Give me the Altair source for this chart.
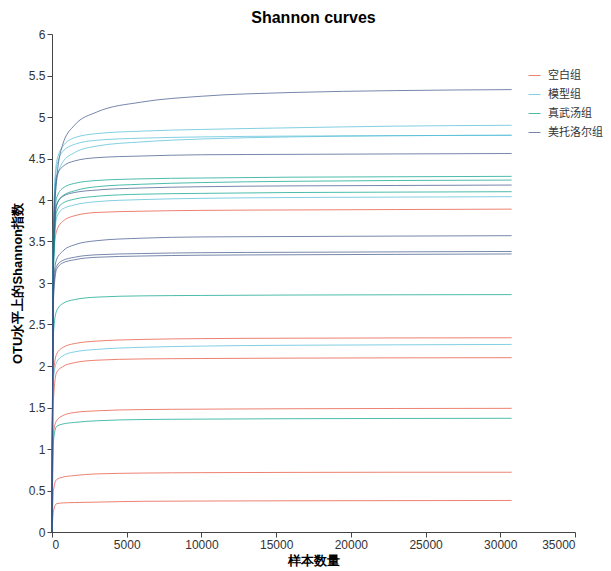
import altair as alt
import pandas as pd

# sequencing depths at which values are read
depths = [0, 100, 300, 700, 1500, 3000, 6000, 10000, 16000, 23000, 30760]

groups = ["空白组", "模型组", "真武汤组", "美托洛尔组"]
colors = ["#E64B35", "#4DBBD5", "#00A087", "#3C5488"]

blank_curves = [
    [0, 3.3, 3.62, 3.74, 3.81, 3.85, 3.865, 3.875, 3.88, 3.885, 3.89],
    [0, 1.9, 2.14, 2.22, 2.27, 2.30, 2.32, 2.33, 2.335, 2.338, 2.34],
    [0, 1.6, 1.92, 1.99, 2.04, 2.07, 2.085, 2.09, 2.095, 2.098, 2.10],
    [0, 1.2, 1.34, 1.40, 1.44, 1.46, 1.475, 1.48, 1.485, 1.488, 1.49],
    [0, 0.5, 0.63, 0.66, 0.68, 0.70, 0.71, 0.715, 0.718, 0.72, 0.72],
    [0, 0.25, 0.34, 0.35, 0.355, 0.36, 0.37, 0.373, 0.376, 0.378, 0.38],
]
model_curves = [
    [0, 3.8, 4.45, 4.64, 4.75, 4.80, 4.83, 4.85, 4.87, 4.89, 4.90],
    [0, 3.7, 4.38, 4.58, 4.67, 4.72, 4.745, 4.76, 4.77, 4.775, 4.78],
    [0, 3.5, 4.22, 4.45, 4.57, 4.65, 4.70, 4.735, 4.76, 4.775, 4.78],
    [0, 3.1, 3.78, 3.89, 3.94, 3.98, 4.005, 4.02, 4.03, 4.035, 4.04],
    [0, 1.85, 2.04, 2.12, 2.17, 2.20, 2.225, 2.24, 2.25, 2.255, 2.26],
]
zwt_curves = [
    [0, 3.3, 4.02, 4.14, 4.20, 4.235, 4.255, 4.265, 4.275, 4.28, 4.285],
    [0, 3.2, 3.94, 4.05, 4.11, 4.16, 4.19, 4.21, 4.225, 4.235, 4.24],
    [0, 3.2, 3.85, 3.96, 4.01, 4.045, 4.07, 4.08, 4.09, 4.095, 4.10],
    [0, 2.4, 2.66, 2.75, 2.80, 2.83, 2.845, 2.85, 2.855, 2.858, 2.86],
    [0, 1.1, 1.27, 1.30, 1.32, 1.34, 1.355, 1.36, 1.365, 1.368, 1.37],
]
mtl_curves = [
    [0, 3.5, 4.22, 4.66, 4.90, 5.06, 5.18, 5.25, 5.295, 5.318, 5.33],
    [0, 3.6, 4.28, 4.40, 4.47, 4.51, 4.53, 4.545, 4.55, 4.555, 4.56],
    [0, 3.3, 3.93, 4.04, 4.09, 4.12, 4.145, 4.16, 4.17, 4.175, 4.18],
    [0, 3.0, 3.28, 3.38, 3.46, 3.51, 3.54, 3.555, 3.56, 3.565, 3.57],
    [0, 2.9, 3.20, 3.27, 3.31, 3.34, 3.355, 3.365, 3.37, 3.375, 3.38],
    [0, 2.8, 3.16, 3.24, 3.28, 3.31, 3.325, 3.335, 3.34, 3.345, 3.35],
]

rows = []
for g, curves in zip(groups, [blank_curves, model_curves, zwt_curves, mtl_curves]):
    for i, c in enumerate(curves):
        for d, v in zip(depths, c):
            rows.append({"depth": d, "shannon": v, "group": g, "sample": f"{g}_{i}"})
df = pd.DataFrame(rows)

chart = alt.Chart(df).mark_line(strokeWidth=1, opacity=0.7, interpolate="monotone").encode(
    x=alt.X("depth:Q", title="样本数量",
            scale=alt.Scale(domain=[0, 35000], nice=False),
            axis=alt.Axis(values=[0, 5000, 10000, 15000, 20000, 25000, 30000, 35000], format="d",
                          grid=False, titleFontWeight="bold", titleFontSize=13, titlePadding=4)),
    y=alt.Y("shannon:Q", title="OTU水平上的Shannon指数",
            scale=alt.Scale(domain=[0, 6], nice=False),
            axis=alt.Axis(values=[0, 0.5, 1, 1.5, 2, 2.5, 3, 3.5, 4, 4.5, 5, 5.5, 6], format="~g",
                          grid=False, titleFontWeight="bold", titleFontSize=13, titlePadding=4)),
    color=alt.Color("group:N", scale=alt.Scale(domain=groups, range=colors),
                    legend=alt.Legend(title=None, orient="none", legendX=476, legendY=35,
                                      symbolType="stroke", symbolSize=144, symbolStrokeWidth=1,
                                      labelFontSize=11, labelColor="#333", rowPadding=7,
                                      labelOffset=7)),
    detail="sample:N",
    order="depth:Q",
).properties(
    width=523, height=498,
    title=alt.Title("Shannon curves", fontSize=16, fontWeight="bold", anchor="middle", offset=2,
                    font="Liberation Sans", color="#000"),
    autosize=alt.AutoSizeParams(type="none"),
    padding={"left": 44, "top": 26, "right": 28, "bottom": 38},
    background="white",
).configure_view(stroke=None).configure_axis(
    domainColor="#444", tickColor="#444", labelColor="#333", labelFontSize=12,
    labelFont="Liberation Sans", titleColor="#000", tickSize=5, labelPadding=2,
).configure_legend(labelFont="Noto Sans CJK SC")

chart.save("out.html", embed_options={"renderer": "svg", "actions": False})
